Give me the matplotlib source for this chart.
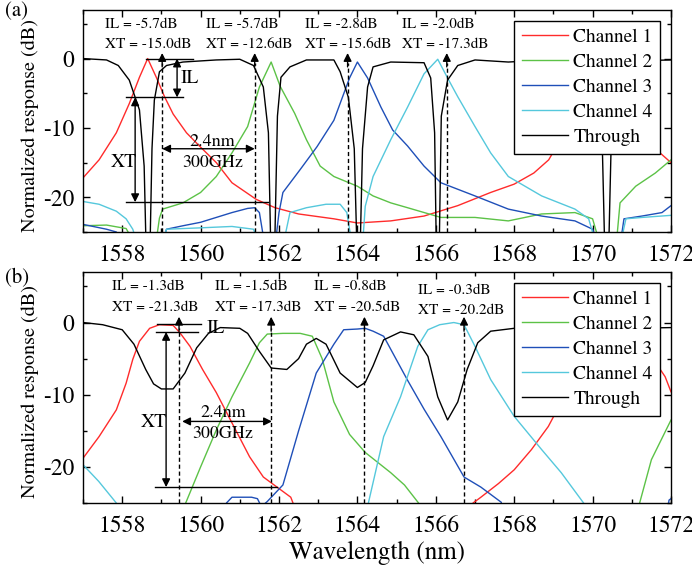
import numpy as np
import matplotlib as mpl
mpl.use('Agg')
import matplotlib.pyplot as plt
from matplotlib.ticker import MultipleLocator

plt.rcParams['font.family'] = ['TeX Gyre Termes', 'STIXGeneral', 'DejaVu Serif']
plt.rcParams['axes.unicode_minus'] = False

# ---------------- data, panel (a) ----------------
a_ch1_wl = [1557.0, 1557.41, 1557.85, 1558.18, 1558.44, 1558.65, 1558.87, 1559.08, 1559.3, 1559.64,
            1559.97, 1560.4, 1560.8, 1561.42, 1561.9, 1562.5, 1563.4, 1564.0, 1564.85, 1565.7,
            1566.56, 1567.4, 1568.0, 1568.5, 1568.88, 1569.3, 1569.7, 1570.0, 1570.3, 1570.6,
            1570.9, 1571.3, 1571.6, 1572.0]
a_ch1_db = [-17.2, -14.6, -10.7, -6.5, -2.7, 0.0, -2.7, -5.5, -8.0, -10.7,
            -12.6, -15.0, -17.9, -20.3, -21.5, -22.4, -23.1, -23.7, -23.4, -22.7,
            -21.2, -19.3, -18.1, -16.5, -14.6, -10.5, -6.0, -2.8, 0.0, -3.0,
            -6.5, -10.5, -13.0, -15.0]

a_ch2_wl = [1557.0, 1557.6, 1558.1, 1558.35, 1558.85, 1558.95, 1559.03, 1559.55, 1560.0, 1560.4,
            1560.8, 1561.2, 1561.5, 1561.8, 1562.03, 1562.4, 1562.7, 1563.05, 1563.4, 1564.0,
            1564.4, 1564.85, 1565.28, 1566.13, 1567.0, 1567.85, 1568.7, 1569.55, 1570.0, 1570.2,
            1570.6, 1570.7, 1571.1, 1571.6, 1572.0]
a_ch2_db = [-24.1, -24.0, -24.5, -27.0, -27.0, -23.0, -21.7, -20.8, -19.3, -17.0,
            -13.6, -9.8, -4.1, -0.5, -4.0, -7.9, -11.7, -15.5, -17.0, -18.4,
            -19.8, -20.8, -21.5, -22.9, -22.9, -23.4, -22.4, -22.2, -23.1, -27.0,
            -27.0, -20.8, -18.4, -16.5, -14.6]

a_ch3_wl = [1557.0, 1557.6, 1557.85, 1558.1, 1559.0, 1559.13, 1559.55, 1560.0, 1560.4, 1560.8,
            1561.2, 1561.38, 1561.5, 1561.64, 1561.9, 1562.0, 1562.1, 1562.54, 1562.97, 1563.4,
            1563.8, 1564.0, 1564.26, 1564.6, 1564.9, 1565.28, 1565.7, 1566.13, 1567.0, 1567.85,
            1568.7, 1569.55, 1570.0, 1570.15, 1570.7, 1570.8, 1571.26, 1571.77, 1572.0]
a_ch3_db = [-23.9, -24.6, -25.0, -27.0, -27.0, -24.6, -24.1, -23.6, -22.9, -22.2,
            -21.6, -21.5, -22.2, -27.0, -27.0, -22.2, -19.3, -16.0, -12.7, -8.9,
            -2.8, -0.5, -2.8, -7.0, -10.3, -12.6, -15.5, -17.9, -19.8, -21.7,
            -22.7, -23.4, -24.6, -27.0, -27.0, -23.1, -22.7, -22.2, -21.2]

a_ch4_wl = [1557.0, 1557.41, 1557.85, 1558.1, 1558.27, 1558.4, 1559.0, 1559.13, 1560.0, 1560.8,
            1561.35, 1561.5, 1562.1, 1562.28, 1562.7, 1563.2, 1563.56, 1563.73, 1563.87, 1564.13,
            1564.2, 1564.4, 1564.85, 1565.28, 1565.7, 1566.05, 1566.3, 1566.56, 1567.0, 1567.4,
            1567.85, 1568.7, 1569.55, 1569.9, 1570.1, 1570.7, 1570.85, 1571.26, 1572.0]
a_ch4_db = [-20.6, -21.0, -22.0, -23.1, -24.6, -27.0, -27.0, -24.6, -24.4, -24.2,
            -24.6, -27.0, -27.0, -22.2, -21.5, -21.0, -21.0, -22.2, -27.0, -27.0,
            -21.3, -17.0, -11.7, -7.0, -2.2, -0.1, -2.8, -5.5, -9.8, -13.6,
            -17.0, -19.8, -21.7, -23.1, -27.0, -27.0, -23.1, -22.9, -22.6]

a_thr_wl = [1557.0, 1557.6, 1557.9, 1558.18, 1558.44, 1558.56, 1558.62, 1558.7, 1558.76, 1558.82,
            1558.95, 1559.13, 1559.55, 1560.4, 1561.0, 1561.35, 1561.6, 1561.73, 1561.8, 1561.88,
            1561.96, 1562.05, 1562.28, 1562.7, 1563.4, 1563.56, 1563.77, 1563.92, 1564.0, 1564.06,
            1564.13, 1564.26, 1564.4, 1564.85, 1565.7, 1565.87, 1565.97, 1566.02, 1566.08, 1566.14,
            1566.3, 1566.56, 1567.0, 1567.85, 1568.5, 1569.5, 1570.0, 1570.22, 1570.32, 1570.4,
            1570.5, 1570.75, 1571.2, 1572.0]
a_thr_db = [0.0, -0.2, -1.0, -3.1, -7.4, -15.5, -30, -30, -13.0, -6.0,
            -1.9, -1.0, -0.5, -0.2, -0.1, -1.0, -4.1, -10.7, -30, -30,
            -8.3, -2.7, -1.2, -0.2, -0.2, -1.9, -5.6, -13.0, -30, -30,
            -13.0, -4.1, -1.2, -0.5, -0.6, -2.8, -10.7, -30, -30, -8.3,
            -3.1, -1.0, -0.2, -0.5, -0.3, -0.3, -1.0, -6.0, -30, -30,
            -6.0, -1.0, -0.3, -0.2]

# ---------------- data, panel (b) ----------------
b_ch1_wl = [1557.0, 1557.41, 1557.85, 1558.1, 1558.27, 1558.44, 1558.7, 1558.95, 1559.3, 1559.47,
            1559.73, 1560.05, 1560.4, 1560.8, 1561.25, 1561.6, 1561.95, 1562.3, 1562.5, 1566.8,
            1566.95, 1567.15, 1567.6, 1568.0, 1568.44, 1568.87, 1569.3, 1569.7, 1570.1, 1570.5,
            1570.9, 1571.3, 1571.6, 1571.85, 1572.0]
b_ch1_db = [-18.8, -15.8, -12.1, -8.4, -5.1, -2.6, -0.8, -0.3, -0.4, -1.4,
            -3.3, -6.5, -9.7, -13.9, -18.6, -21.4, -22.8, -24.2, -27.0, -27.0,
            -25.0, -24.2, -22.3, -20.4, -17.6, -14.4, -10.0, -5.5, -1.5, -0.3,
            -1.0, -3.5, -5.5, -7.5, -9.6]

b_ch2_wl = [1557.0, 1559.45, 1559.62, 1560.0, 1560.4, 1560.8, 1561.25, 1561.5, 1561.7, 1562.1,
            1562.54, 1562.85, 1563.1, 1563.4, 1563.8, 1564.2, 1564.85, 1565.2, 1565.56, 1565.7,
            1571.0, 1571.2, 1571.5, 1572.0]
b_ch2_db = [-30, -30, -25.0, -20.0, -14.9, -10.3, -5.6, -2.8, -1.6, -1.5,
            -1.5, -1.9, -5.0, -11.0, -15.5, -18.0, -20.8, -22.5, -25.0, -30,
            -30, -25.0, -19.0, -13.5]

b_ch3_wl = [1557.0, 1560.55, 1560.66, 1560.8, 1561.3, 1561.45, 1561.55, 1561.7, 1562.1, 1562.5,
            1562.95, 1563.4, 1563.65, 1564.0, 1564.2, 1564.4, 1564.67, 1565.28, 1565.7, 1566.13,
            1566.72, 1567.15, 1567.67, 1567.8, 1571.8, 1571.95, 1572.0]
b_ch3_db = [-30, -30, -25.0, -24.2, -24.2, -24.4, -25.5, -24.8, -22.5, -15.0,
            -7.0, -3.0, -1.0, -0.9, -0.8, -1.2, -1.9, -8.0, -12.0, -15.8,
            -21.4, -22.8, -24.9, -30, -30, -24.6, -24.4]

b_ch4_wl = [1557.0, 1557.4, 1557.85, 1558.0, 1564.15, 1564.28, 1564.67, 1565.1, 1565.54, 1565.8,
            1566.1, 1566.46, 1566.72, 1567.0, 1567.4, 1568.0, 1568.7, 1569.2, 1569.77, 1569.9,
            1572.0]
b_ch4_db = [-19.7, -22.0, -25.0, -30, -30, -25.0, -15.8, -10.3, -3.3, -1.0,
            -0.3, 0.0, -0.3, -3.3, -7.9, -13.0, -17.6, -20.8, -25.0, -30,
            -30]

b_thr_wl = [1557.0, 1557.5, 1558.0, 1558.3, 1558.6, 1558.8, 1559.0, 1559.3, 1559.6, 1559.9,
            1560.2, 1560.5, 1561.0, 1561.2, 1561.5, 1561.8, 1562.2, 1562.5, 1562.7, 1562.95,
            1563.2, 1563.56, 1564.0, 1564.2, 1564.4, 1564.67, 1565.1, 1565.44, 1565.8, 1566.05,
            1566.3, 1566.56, 1566.8, 1567.07, 1567.4, 1568.0, 1569.0, 1570.0, 1571.0, 1572.0]
b_thr_db = [0.0, -0.3, -1.0, -3.0, -6.5, -8.5, -9.2, -9.2, -7.0, -3.5,
            -1.5, -0.7, -0.8, -1.5, -4.0, -6.3, -6.5, -5.0, -3.0, -2.2,
            -3.0, -7.0, -9.0, -8.3, -6.0, -2.4, -1.3, -1.7, -4.7, -10.3,
            -13.5, -11.0, -6.5, -2.8, -1.2, -0.8, -0.8, -0.8, -0.8, -0.7]

labels = ['Channel 1', 'Channel 2', 'Channel 3', 'Channel 4', 'Through']
colors = ['#ff2b2b', '#5cc247', '#1f4fb8', '#55c8dc', 'black']

a_il = ['-5.7', '-5.7', '-2.8', '-2.0']
a_xt = ['-15.0', '-12.6', '-15.6', '-17.3']
a_marks = [1559.02, 1561.38, 1563.75, 1566.28]
b_il = ['-1.3', '-1.5', '-0.8', '-0.3']
b_xt = ['-21.3', '-17.3', '-20.5', '-20.2']
b_marks = [1559.45, 1561.8, 1564.18, 1566.72]

W, H = 692, 573
fig = plt.figure(figsize=(W / 100, H / 100), dpi=100)
ax_a = fig.add_axes([83 / W, 1 - 232 / H, 588 / W, 222 / H])
ax_b = fig.add_axes([83 / W, 1 - 503 / H, 588 / W, 231 / H])


def style_axes(ax):
    ax.set_xlim(1557, 1572)
    ax.set_ylim(-25, 7)
    ax.xaxis.set_major_locator(MultipleLocator(2))
    ax.xaxis.set_minor_locator(MultipleLocator(1))
    ax.yaxis.set_major_locator(MultipleLocator(10))
    ax.yaxis.set_minor_locator(MultipleLocator(5))
    ax.tick_params(which='both', direction='in', top=True, right=True, width=1)
    ax.tick_params(which='major', length=5, labelsize=17)
    ax.tick_params(which='minor', length=3)
    ax.tick_params(axis='x', pad=9)
    ax.tick_params(axis='y', pad=6)
    for s in ax.spines.values():
        s.set_linewidth(1.0)


def double_arrow(ax, p1, p2):
    ax.annotate('', xy=p2, xytext=p1,
                arrowprops=dict(arrowstyle='<|-|>', color='black', lw=1.0,
                                mutation_scale=12, shrinkA=0, shrinkB=0))


def mark_arrow(ax, x, top):
    ax.plot([x, x], [-25, top - 1.5], color='black', lw=1.0, ls=(0, (3, 2)))
    ax.annotate('', xy=(x, top), xytext=(x, top - 2.0),
                arrowprops=dict(arrowstyle='-|>', color='black', lw=1.0,
                                mutation_scale=12, shrinkA=0, shrinkB=0))


def draw_panel(ax, curves, il, xt, marks, text_x, text_y):
    for (wl, db), lab, c in zip(curves, labels, colors):
        ax.plot(wl, db, color=c, lw=1.0, label=lab)
    style_axes(ax)
    for k in range(4):
        ax.text(text_x[k], text_y[k][0], 'IL = ' + il[k] + 'dB', fontsize=11, va='center', ha='left')
        ax.text(text_x[k], text_y[k][1], 'XT = ' + xt[k] + 'dB', fontsize=11, va='center', ha='left')
        mark_arrow(ax, marks[k], 0.8)
    leg = ax.legend(loc='upper right', fontsize=14, frameon=True, fancybox=False,
                    edgecolor='black', framealpha=1, handlelength=2.4,
                    handletextpad=0.25, labelspacing=0.38, borderpad=0.4,
                    borderaxespad=0.55)
    leg.get_frame().set_linewidth(1.0)


draw_panel(ax_a,
           [(a_ch1_wl, a_ch1_db), (a_ch2_wl, a_ch2_db), (a_ch3_wl, a_ch3_db),
            (a_ch4_wl, a_ch4_db), (a_thr_wl, a_thr_db)],
           a_il, a_xt, a_marks,
           [1557.56, 1560.15, 1562.67, 1565.15],
           [(5.0, 2.1)] * 4)

# IL / XT / spacing annotations, panel (a)
ax_a.plot([1558.6, 1559.8], [0, 0], color='black', lw=1.0)
ax_a.plot([1558.1, 1559.55], [-5.6, -5.6], color='black', lw=1.0)
ax_a.plot([1558.1, 1561.72], [-20.7, -20.7], color='black', lw=1.0)
double_arrow(ax_a, (1559.4, 0), (1559.4, -5.6))
double_arrow(ax_a, (1558.33, -5.6), (1558.33, -20.7))
double_arrow(ax_a, (1559.02, -13.0), (1561.38, -13.0))
ax_a.text(1559.5, -2.9, 'IL', fontsize=14, va='center', ha='left')
ax_a.text(1558.05, -15.0, 'XT', fontsize=14, va='center', ha='center')
ax_a.text(1560.3, -12.0, '2.4nm', fontsize=13, va='center', ha='center')
ax_a.text(1560.3, -15.0, '300GHz', fontsize=13, va='center', ha='center')

draw_panel(ax_b,
           [(b_ch1_wl, b_ch1_db), (b_ch2_wl, b_ch2_db), (b_ch3_wl, b_ch3_db),
            (b_ch4_wl, b_ch4_db), (b_thr_wl, b_thr_db)],
           b_il, b_xt, b_marks,
           [1557.75, 1560.36, 1562.9, 1565.55],
           [(5.0, 2.1), (5.0, 2.1), (5.0, 2.1), (4.4, 1.7)])

# IL / XT / spacing annotations, panel (b)
ax_b.plot([1558.9, 1560.0], [-0.2, -0.2], color='black', lw=1.0)
ax_b.plot([1558.87, 1559.93], [-1.3, -1.3], color='black', lw=1.0)
ax_b.plot([1558.84, 1561.95], [-22.8, -22.8], color='black', lw=1.0)
double_arrow(ax_b, (1559.12, -1.3), (1559.12, -22.8))
double_arrow(ax_b, (1559.53, -13.7), (1561.82, -13.7))
ax_b.text(1560.15, -0.8, 'IL', fontsize=14, va='center', ha='left')
ax_b.text(1558.8, -13.9, 'XT', fontsize=14, va='center', ha='center')
ax_b.text(1560.57, -12.5, '2.4nm', fontsize=13, va='center', ha='center')
ax_b.text(1560.57, -15.4, '300GHz', fontsize=13, va='center', ha='center')

fig.text(30 / W, 1 - 126 / H, 'Normalized response (dB)', rotation=90,
         fontsize=14.5, ha='center', va='center')
fig.text(30 / W, 1 - 392 / H, 'Normalized response (dB)', rotation=90,
         fontsize=14.5, ha='center', va='center')
fig.text(377 / W, 1 - 553 / H, 'Wavelength (nm)', fontsize=18, ha='center', va='center')
fig.text(5 / W, 1 - 11 / H, '(a)', fontsize=15, ha='left', va='center')
fig.text(5 / W, 1 - 278 / H, '(b)', fontsize=15, ha='left', va='center')

fig.savefig('out.png', dpi=100)
